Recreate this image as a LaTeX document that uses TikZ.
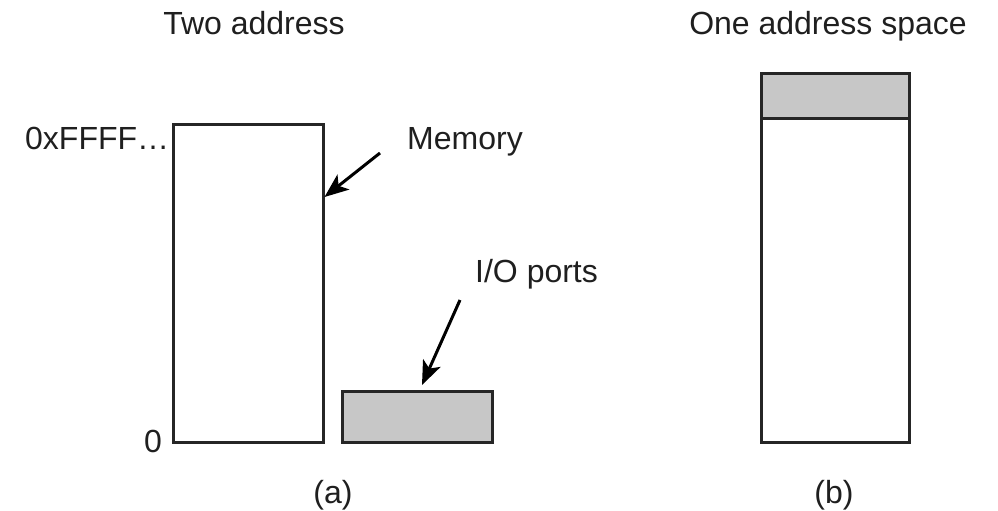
\documentclass[tikz,border=0pt]{standalone}
\usepackage{fontspec}
\setmainfont{Liberation Sans}
\usetikzlibrary{arrows.meta,calc}

\tikzset{
  region/.style={draw=black!85, line width=3pt, inner sep=0pt, outer sep=0pt},
  ioregion/.style={region, fill=black!22},
  lbl/.style={font=\fontsize{32}{36}\selectfont, text=black!88, inner sep=0pt},
  pointer/.style={line width=3pt, draw=black, -{Stealth[length=24pt,width=19pt,inset=6pt]}}
}

\begin{document}
\begin{tikzpicture}[x=1pt, y=-1pt]
  \useasboundingbox (0,0) rectangle (998,511);

  % (a) separate memory and I/O address spaces
  \node[region, minimum width=150pt, minimum height=318pt] (mem) at (248,283) {};
  \node[ioregion, minimum width=150pt, minimum height=51pt] (io) at (417,416.5) {};

  \node[lbl, anchor=base] (titlea) at (254,35) {Two address};
  \node[lbl, anchor=base west] (top) at (25,149) {0xFFFF…};
  \node[lbl, anchor=base east] (zero) at (162,452) {0};
  \node[lbl, anchor=base west] (memlbl) at (407,149) {Memory};
  \node[lbl, anchor=base west] (iolbl) at (475,282) {I/O ports};
  \node[lbl, anchor=base] (capa) at (333,503) {(a)};

  \coordinate (memtail) at (380,153);
  \coordinate (iotail) at (460,300);
  \draw[pointer] (memtail) -- ($(mem.north east)+(1.5,73)$);
  \draw[pointer] (iotail) -- ($(io.north west)+(80,-6)$);

  % (b) single shared address space
  \node[region, minimum width=148pt, minimum height=324pt] (memb) at (835,280) {};
  \node[ioregion, minimum width=148pt, minimum height=45pt] (iob) at (835,95.5) {};

  \node[lbl, anchor=base] (titleb) at (828,35) {One address space};
  \node[lbl, anchor=base] (capb) at (834,503) {(b)};
\end{tikzpicture}
\end{document}
